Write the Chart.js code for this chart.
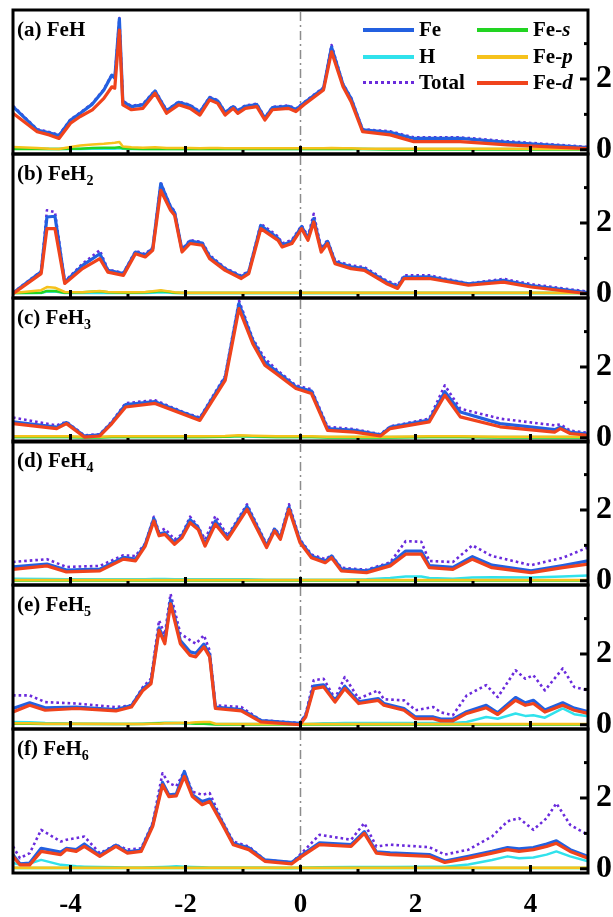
<!DOCTYPE html>
<html>
<head>
<meta charset="utf-8">
<script src="https://cdn.jsdelivr.net/npm/chart.js@4.4.0/dist/chart.umd.min.js"></script>
<style>
body{margin:0;background:#fff;width:613px;height:917px;overflow:hidden;position:relative;}
.pane{position:absolute;left:0;}
.lbl{position:absolute;left:17px;font:bold 21px/21px "Liberation Serif",serif;color:#000;white-space:nowrap;}
.lbl sub{font-size:14px;vertical-align:-5px;line-height:0;}
.leg{position:absolute;font:bold 21px/21px "Liberation Serif",serif;color:#000;white-space:nowrap;}
.sw{position:absolute;height:0;}
</style>
</head>
<body>
<script>
// x tick labels and y tick labels
const xTicks = [-4, -2, 0, 2, 4];
const yTicks = [0, 2];

// (a) FeH
const xA = [-5,-4.58,-4.37,-4.2,-4.0,-3.83,-3.62,-3.42,-3.28,-3.23, -3.15,-3.09,-2.94,-2.74,-2.53,-2.33,-2.12,-1.92,-1.75,-1.58, -1.44,-1.31,-1.17,-1.09,-0.96,-0.76,-0.62,-0.49,-0.21,-0.08, 0.06,0.40,0.54,0.74,0.88,1.08,1.56,1.97,2.78,3.6, 5.0];
const dA = [1.03,0.51,0.42,0.32,0.75,0.94,1.13,1.45,1.78,1.74, 3.38,1.27,1.13,1.17,1.60,1.03,1.27,1.17,0.98,1.41, 1.31,0.98,1.17,1.03,1.17,1.22,0.84,1.13,1.17,1.08, 1.27,1.69,2.77,1.78,1.36,0.51,0.42,0.23,0.23,0.14, 0.03];
const feA = [1.22,0.56,0.48,0.40,0.84,1.03,1.29,1.69,2.11,2.02, 3.70,1.36,1.22,1.27,1.66,1.10,1.34,1.25,1.06,1.47, 1.38,1.05,1.22,1.10,1.23,1.28,0.89,1.19,1.23,1.14, 1.32,1.74,2.90,1.84,1.45,0.56,0.49,0.32,0.32,0.21, 0.06];
const totA = [1.24,0.58,0.50,0.42,0.86,1.05,1.31,1.71,2.13,2.04, 3.72,1.38,1.24,1.29,1.68,1.12,1.36,1.27,1.08,1.49, 1.40,1.07,1.24,1.12,1.25,1.30,0.91,1.21,1.25,1.16, 1.34,1.76,2.96,1.86,1.47,0.58,0.52,0.35,0.35,0.24, 0.08];
const hA = [0.03,0.03,0.02,0.02,0.02,0.02,0.03,0.03,0.03,0.03, 0.04,0.03,0.02,0.02,0.02,0.02,0.02,0.02,0.02,0.02, 0.02,0.02,0.02,0.02,0.02,0.02,0.02,0.02,0.02,0.02, 0.02,0.02,0.03,0.02,0.02,0.02,0.02,0.02,0.02,0.02, 0.02];
const sA = [0.02,0.02,0.02,0.02,0.03,0.03,0.05,0.06,0.06,0.06, 0.07,0.04,0.03,0.02,0.03,0.02,0.02,0.02,0.02,0.02, 0.02,0.02,0.02,0.02,0.02,0.02,0.02,0.02,0.02,0.02, 0.02,0.02,0.03,0.02,0.02,0.02,0.01,0.01,0.01,0.01, 0.01];
const pA = [0.08,0.05,0.03,0.02,0.08,0.12,0.15,0.17,0.19,0.20, 0.22,0.09,0.07,0.06,0.07,0.05,0.05,0.05,0.04,0.05, 0.05,0.04,0.04,0.04,0.04,0.04,0.04,0.04,0.04,0.04, 0.04,0.04,0.05,0.04,0.04,0.03,0.03,0.03,0.03,0.03, 0.02];

// (b) FeH2
const xB = [-5,-4.51,-4.41,-4.27,-4.1,-3.79,-3.49,-3.35,-3.08,-2.87, -2.70,-2.57,-2.43,-2.26,-2.19,-2.06,-1.92,-1.71,-1.58,-1.31, -1.03,-0.9,-0.69,-0.39,-0.32,-0.15,0.02,0.13,0.23,0.36, 0.47,0.6,0.88,1.11,1.49,1.69,1.8,2.24,2.92,3.53, 4.01,5.0];
const dB = [0.0,0.57,1.84,1.84,0.29,0.71,0.99,0.61,0.52,1.13, 1.04,1.23,2.92,2.36,2.22,1.18,1.42,1.37,0.99,0.66, 0.43,0.57,1.84,1.51,1.32,1.42,1.84,1.51,2.03,1.18, 1.42,0.85,0.71,0.66,0.29,0.15,0.43,0.43,0.24,0.33, 0.19,0.0];
const feB = [0.02,0.62,2.17,2.19,0.33,0.80,1.13,0.66,0.57,1.18, 1.09,1.28,3.11,2.45,2.30,1.23,1.49,1.43,1.05,0.70, 0.48,0.62,1.93,1.57,1.38,1.48,1.90,1.57,2.12,1.24, 1.48,0.90,0.76,0.71,0.34,0.20,0.47,0.48,0.28,0.38, 0.23,0.03];
const totB = [0.03,0.64,2.36,2.31,0.35,0.85,1.23,0.68,0.59,1.21, 1.12,1.31,3.14,2.48,2.34,1.26,1.52,1.46,1.09,0.73, 0.51,0.65,1.98,1.62,1.42,1.52,1.93,1.62,2.26,1.28, 1.52,0.94,0.80,0.75,0.38,0.24,0.52,0.52,0.29,0.42, 0.27,0.06];
const hB = [0.02,0.02,0.06,0.06,0.02,0.02,0.03,0.02,0.02,0.02, 0.02,0.03,0.04,0.03,0.02,0.02,0.02,0.02,0.02,0.02, 0.02,0.02,0.02,0.02,0.02,0.02,0.02,0.02,0.02,0.02, 0.02,0.02,0.02,0.02,0.02,0.02,0.02,0.02,0.02,0.02, 0.02,0.02];
const sB = [0.02,0.03,0.08,0.08,0.03,0.04,0.07,0.04,0.03,0.03, 0.04,0.06,0.08,0.05,0.03,0.02,0.02,0.02,0.02,0.02, 0.02,0.02,0.02,0.02,0.02,0.02,0.02,0.02,0.02,0.02, 0.02,0.02,0.02,0.02,0.02,0.02,0.02,0.02,0.02,0.02, 0.02,0.02];
const pB = [0.02,0.10,0.19,0.17,0.05,0.04,0.08,0.05,0.04,0.04, 0.05,0.07,0.10,0.06,0.04,0.03,0.03,0.03,0.03,0.03, 0.03,0.03,0.03,0.03,0.03,0.03,0.03,0.03,0.03,0.03, 0.03,0.03,0.03,0.03,0.03,0.03,0.03,0.03,0.03,0.03, 0.03,0.02];

// (c) FeH3
const xC = [-5,-4.24,-4.07,-3.76,-3.49,-3.28,-3.04,-2.53,-2.06,-1.75, -1.31,-1.07,-0.83,-0.62,-0.42,-0.08,0.19,0.47,0.94,1.39, 1.56,2.24,2.51,2.78,3.47,4.42,4.52,4.69,5.0];
const dC = [0.40,0.26,0.40,0.02,0.05,0.40,0.87,0.97,0.68,0.49, 1.62,3.65,2.66,2.05,1.81,1.39,1.25,0.21,0.16,0.05, 0.26,0.45,1.20,0.59,0.31,0.16,0.26,0.12,0.07];
const feC = [0.45,0.30,0.43,0.05,0.08,0.43,0.94,1.02,0.72,0.54, 1.70,3.79,2.75,2.14,1.88,1.44,1.32,0.26,0.21,0.08, 0.30,0.50,1.30,0.73,0.40,0.23,0.30,0.16,0.10];
const totC = [0.57,0.35,0.45,0.07,0.10,0.46,0.98,1.06,0.74,0.57, 1.75,3.88,2.80,2.24,1.93,1.48,1.37,0.31,0.24,0.10, 0.32,0.54,1.48,0.82,0.54,0.35,0.38,0.20,0.14];
const hC = [0.02,0.02,0.02,0.02,0.02,0.02,0.02,0.02,0.02,0.02, 0.03,0.05,0.03,0.02,0.02,0.02,0.02,0.02,0.02,0.02, 0.02,0.02,0.02,0.02,0.02,0.02,0.02,0.02,0.02];
const sC = [0.02,0.02,0.02,0.01,0.01,0.02,0.02,0.02,0.02,0.02, 0.03,0.05,0.04,0.03,0.02,0.02,0.02,0.01,0.01,0.01, 0.01,0.02,0.02,0.02,0.01,0.01,0.01,0.01,0.01];
const pC = [0.04,0.04,0.04,0.03,0.03,0.04,0.04,0.04,0.04,0.04, 0.05,0.07,0.06,0.05,0.04,0.04,0.04,0.03,0.03,0.03, 0.03,0.04,0.04,0.04,0.03,0.03,0.03,0.03,0.03];

// (d) FeH4
const xD = [-5,-4.41,-4.07,-3.49,-3.08,-2.87,-2.70,-2.55,-2.46,-2.36, -2.19,-2.06,-1.92,-1.78,-1.66,-1.48,-1.27,-0.93,-0.59,-0.45, -0.35,-0.2,-0.01,0.19,0.43,0.54,0.71,1.15,1.56,1.83, 2.1,2.24,2.65,2.99,3.33,4.01,4.56,5.0];
const dD = [0.32,0.42,0.25,0.28,0.61,0.56,0.98,1.69,1.27,1.31, 1.03,1.22,1.64,1.45,0.98,1.60,1.17,2.02,0.94,1.41, 1.17,2.02,1.08,0.65,0.51,0.65,0.28,0.23,0.42,0.75, 0.75,0.37,0.32,0.61,0.37,0.23,0.37,0.47];
const feD = [0.39,0.47,0.30,0.33,0.66,0.61,1.03,1.76,1.32,1.36, 1.08,1.27,1.73,1.50,1.03,1.69,1.22,2.10,0.99,1.46, 1.22,2.08,1.13,0.70,0.56,0.70,0.33,0.28,0.48,0.84, 0.84,0.43,0.38,0.68,0.44,0.28,0.43,0.56];
const totD = [0.53,0.61,0.39,0.42,0.72,0.70,1.06,1.81,1.38,1.47, 1.17,1.31,1.81,1.53,1.17,1.83,1.27,2.16,1.03,1.49, 1.27,2.16,1.17,0.74,0.61,0.72,0.37,0.31,0.52,1.12, 1.10,0.56,0.53,1.00,0.70,0.44,0.65,0.94];
const hD = [0.06,0.05,0.04,0.04,0.04,0.04,0.04,0.05,0.05,0.05, 0.04,0.04,0.04,0.04,0.04,0.04,0.04,0.04,0.03,0.03, 0.03,0.03,0.03,0.03,0.03,0.03,0.03,0.04,0.08,0.12, 0.12,0.08,0.06,0.09,0.10,0.09,0.12,0.15];
const sD = [0.01,0.01,0.01,0.01,0.01,0.01,0.01,0.01,0.01,0.01, 0.01,0.01,0.01,0.01,0.01,0.01,0.01,0.01,0.01,0.01, 0.01,0.01,0.01,0.01,0.01,0.01,0.01,0.01,0.01,0.01, 0.01,0.01,0.01,0.01,0.01,0.01,0.01,0.01];
const pD = [0.02,0.02,0.02,0.02,0.02,0.02,0.02,0.02,0.02,0.02, 0.02,0.02,0.02,0.02,0.02,0.02,0.02,0.02,0.02,0.02, 0.02,0.02,0.02,0.02,0.02,0.02,0.02,0.02,0.02,0.02, 0.02,0.02,0.02,0.02,0.02,0.02,0.02,0.02];

// (e) FeH5
const xE = [-5,-4.71,-4.44,-3.9,-3.21,-2.94,-2.74,-2.6,-2.46,-2.36, -2.26,-2.09,-1.92,-1.82,-1.68,-1.58,-1.48,-1.03,-0.69,-0.01, 0.09,0.23,0.4,0.6,0.77,1.01,1.35,1.45,1.8,2.0, 2.31,2.44,2.65,2.89,3.23,3.43,3.74,3.91,4.05,4.25, 4.56,4.76,5.0];
const dE = [0.36,0.55,0.41,0.46,0.39,0.50,0.97,1.16,2.67,2.29, 3.42,2.29,1.96,1.92,2.20,1.92,0.46,0.39,0.08,0.0, 0.22,1.02,1.07,0.64,1.02,0.60,0.69,0.55,0.41,0.17, 0.17,0.11,0.11,0.32,0.48,0.29,0.69,0.55,0.60,0.36, 0.55,0.41,0.32];
const feE = [0.46,0.62,0.48,0.50,0.43,0.54,1.02,1.21,2.74,2.36, 3.52,2.38,2.06,2.02,2.28,1.98,0.50,0.43,0.12,0.04, 0.26,1.09,1.13,0.69,1.09,0.65,0.74,0.60,0.46,0.22, 0.22,0.16,0.16,0.37,0.55,0.34,0.77,0.62,0.69,0.42, 0.62,0.47,0.37];
const totE = [0.83,0.83,0.64,0.60,0.50,0.55,1.07,1.30,2.95,2.55, 3.70,2.58,2.39,2.29,2.53,2.10,0.55,0.50,0.13,0.05, 0.30,1.26,1.30,0.74,1.35,0.74,0.97,0.72,0.69,0.41, 0.50,0.35,0.27,0.83,1.12,0.78,1.54,1.30,1.40,0.97, 1.59,1.07,0.97];
const hE = [0.08,0.07,0.05,0.03,0.02,0.02,0.03,0.04,0.05,0.05, 0.05,0.04,0.04,0.03,0.03,0.02,0.02,0.02,0.02,0.02, 0.02,0.03,0.04,0.04,0.05,0.05,0.05,0.05,0.05,0.05, 0.05,0.05,0.05,0.08,0.22,0.17,0.32,0.25,0.27,0.20, 0.46,0.30,0.24];
const sE = [0.03,0.03,0.02,0.02,0.02,0.02,0.02,0.03,0.04,0.05, 0.05,0.05,0.04,0.03,0.03,0.02,0.01,0.01,0.01,0.01, 0.01,0.01,0.01,0.01,0.01,0.01,0.01,0.01,0.01,0.01, 0.01,0.01,0.01,0.01,0.01,0.01,0.01,0.01,0.01,0.01, 0.01,0.01,0.01];
const pE = [0.04,0.04,0.03,0.03,0.02,0.02,0.02,0.03,0.03,0.04, 0.04,0.05,0.06,0.07,0.08,0.08,0.03,0.02,0.02,0.02, 0.02,0.02,0.02,0.02,0.02,0.02,0.02,0.02,0.02,0.02, 0.02,0.02,0.02,0.02,0.02,0.02,0.02,0.02,0.02,0.02, 0.02,0.02,0.02];

// (f) FeH6
const xF = [-5,-4.88,-4.71,-4.51,-4.17,-4.07,-3.9,-3.76,-3.49,-3.21, -3.01,-2.77,-2.57,-2.4,-2.29,-2.16,-2.02,-1.88,-1.71,-1.58, -1.37,-1.17,-0.9,-0.62,-0.15,0.02,0.33,0.88,1.11,1.32, 1.56,2.24,2.51,2.92,3.33,3.6,3.8,4.05,4.28,4.45, 4.69,5.0];
const dF = [0.35,0.11,0.11,0.49,0.40,0.54,0.49,0.63,0.35,0.63, 0.44,0.49,1.20,2.37,2.04,2.06,2.61,2.04,1.81,1.90, 1.29,0.68,0.54,0.21,0.14,0.35,0.68,0.63,1.00,0.44, 0.40,0.35,0.18,0.30,0.44,0.54,0.49,0.54,0.63,0.72, 0.49,0.30];
const feF = [0.40,0.14,0.16,0.58,0.47,0.58,0.54,0.70,0.39,0.67, 0.48,0.53,1.25,2.44,2.09,2.11,2.75,2.09,1.90,1.97, 1.34,0.72,0.59,0.25,0.18,0.39,0.73,0.68,1.05,0.48, 0.45,0.40,0.22,0.35,0.49,0.60,0.56,0.60,0.70,0.79, 0.54,0.35];
const totF = [0.63,0.30,0.44,1.10,0.77,0.82,0.87,0.91,0.44,0.68, 0.54,0.58,1.30,2.70,2.42,2.33,2.75,2.18,2.09,2.14, 1.38,0.77,0.63,0.25,0.18,0.44,0.96,0.82,1.29,0.63, 0.68,0.61,0.40,0.54,0.91,1.34,1.43,1.10,1.43,1.85, 1.24,0.96];
const hF = [0.16,0.12,0.15,0.25,0.11,0.10,0.07,0.06,0.05,0.04, 0.03,0.03,0.04,0.05,0.06,0.07,0.06,0.05,0.04,0.03, 0.03,0.03,0.03,0.03,0.02,0.03,0.04,0.05,0.05,0.05, 0.05,0.06,0.06,0.12,0.25,0.35,0.30,0.32,0.40,0.49, 0.35,0.21];
const sF = [0.02,0.02,0.02,0.02,0.02,0.02,0.02,0.02,0.02,0.02, 0.02,0.02,0.02,0.02,0.02,0.02,0.02,0.02,0.02,0.02, 0.02,0.02,0.02,0.02,0.02,0.02,0.02,0.02,0.02,0.02, 0.02,0.02,0.02,0.02,0.02,0.02,0.02,0.02,0.02,0.02, 0.02,0.02];
const pF = [0.03,0.03,0.03,0.03,0.03,0.03,0.03,0.03,0.03,0.03, 0.03,0.03,0.03,0.03,0.03,0.03,0.03,0.03,0.03,0.03, 0.03,0.03,0.03,0.03,0.03,0.03,0.03,0.03,0.03,0.03, 0.03,0.03,0.03,0.03,0.03,0.03,0.03,0.03,0.03,0.03, 0.03,0.03];

const panels = [
  {name: '(a) FeH', sub: '',  x: xA, d: dA, fe: feA, tot: totA, h: hA, s: sA, p: pA},
  {name: '(b) FeH', sub: '2', x: xB, d: dB, fe: feB, tot: totB, h: hB, s: sB, p: pB},
  {name: '(c) FeH', sub: '3', x: xC, d: dC, fe: feC, tot: totC, h: hC, s: sC, p: pC},
  {name: '(d) FeH', sub: '4', x: xD, d: dD, fe: feD, tot: totD, h: hD, s: sD, p: pD},
  {name: '(e) FeH', sub: '5', x: xE, d: dE, fe: feE, tot: totE, h: hE, s: sE, p: pE},
  {name: '(f) FeH', sub: '6', x: xF, d: dF, fe: feF, tot: totF, h: hF, s: sF, p: pF}
];

const col = {fe: '#2360e0', h: '#30e2ec', tot: '#6a2bdc', s: '#22d422', p: '#f6c21c', d: '#f0431c', zero: '#8c8c8c'};
const yMin = -0.12, yMax = 3.95;
const tops = [10, 154, 298, 441, 585, 729];
const ph = 144;

function pts(xs, ys) { return xs.map((x, i) => ({x: x, y: ys[i]})); }

function line(label, xs, ys, color, w) {
  return {label: label, data: pts(xs, ys), borderColor: color, backgroundColor: color, borderWidth: w, pointRadius: 0, tension: 0, borderJoinStyle: 'round'};
}

// frame and inward ticks
const frame = {
  id: 'frame',
  afterDatasetsDraw(chart) {
    const {ctx, chartArea: a, scales: {x, y}} = chart;
    ctx.save();
    ctx.fillStyle = '#000';
    for (let v = -4; v <= 4; v++) {
      const px = x.getPixelForValue(v);
      const len = v % 2 === 0 ? 8 : 4;
      ctx.fillRect(px - 1.5, a.bottom - len, 3, len);
    }
    for (let v = 0; v <= 3; v++) {
      const py = y.getPixelForValue(v);
      const len = v % 2 === 0 ? 8 : 4;
      ctx.fillRect(a.right - len, py - 1.5, len, 3);
    }
    ctx.lineWidth = 3;
    ctx.strokeStyle = '#000';
    ctx.strokeRect(a.left, a.top, a.right - a.left, a.bottom - a.top);
    ctx.restore();
  }
};

const font = {family: '"Liberation Serif", serif', weight: 'bold'};

panels.forEach((P, i) => {
  const last = i === panels.length - 1;
  const padTop = 4, padBot = last ? 0 : 22;
  const H = padTop + ph + (last ? 44 : padBot);
  const div = document.createElement('div');
  div.className = 'pane';
  div.style.top = (tops[i] - padTop) + 'px';
  const cv = document.createElement('canvas');
  cv.width = 613; cv.height = H;
  cv.style.width = '613px'; cv.style.height = H + 'px';
  div.appendChild(cv);
  document.body.appendChild(div);

  const tot = line('Total', P.x, P.tot, col.tot, 2.6);
  tot.borderDash = [2.6, 3];

  new Chart(cv, {
    type: 'line',
    data: {
      datasets: [
        line('Fe-d', P.x, P.d, col.d, 3.2),
        line('Fe', P.x, P.fe, col.fe, 3.2),
        tot,
        line('Fe-p', P.x, P.p, col.p, 2.5),
        line('Fe-s', P.x, P.s, col.s, 2.5),
        line('H', P.x, P.h, col.h, 2.5),
        {label: 'EF', data: [{x: 0, y: yMin}, {x: 0, y: yMax}], borderColor: col.zero, borderWidth: 1.5, borderDash: [9, 4, 2, 4], pointRadius: 0}
      ]
    },
    options: {
      responsive: false,
      animation: false,
      devicePixelRatio: 1,
      layout: {padding: {left: 13, right: 0, top: padTop, bottom: padBot}},
      plugins: {legend: {display: false}, tooltip: {enabled: false}},
      scales: {
        x: {
          type: 'linear', min: -5, max: 5, display: last,
          afterBuildTicks: s => { s.ticks = xTicks.map(v => ({value: v})); },
          afterFit: s => { if (last) s.height = 44; s.paddingLeft = 0; s.paddingRight = 0; },
          grid: {display: false, drawTicks: false},
          border: {display: false},
          ticks: {padding: 16, color: '#000', font: Object.assign({size: 27}, font)}
        },
        y: {
          type: 'linear', position: 'right', min: yMin, max: yMax,
          afterBuildTicks: s => { s.ticks = yTicks.map(v => ({value: v})); },
          afterFit: s => { s.width = 25; s.paddingTop = 0; s.paddingBottom = 0; },
          grid: {display: false, drawTicks: false},
          border: {display: false},
          ticks: {padding: 8, color: '#000', font: Object.assign({size: 32}, font)}
        }
      }
    },
    plugins: [frame]
  });

  const lb = document.createElement('div');
  lb.className = 'lbl';
  lb.style.top = (tops[i] + 9) + 'px';
  lb.innerHTML = P.name + (P.sub ? '<sub>' + P.sub + '</sub>' : '');
  document.body.appendChild(lb);
});

// legend in panel (a)
const legItems = [
  {t: 'Fe', c: col.fe, dot: false, x: 363, row: 0},
  {t: 'Fe-<i>s</i>', c: col.s, dot: false, x: 477, row: 0},
  {t: 'H', c: col.h, dot: false, x: 363, row: 1},
  {t: 'Fe-<i>p</i>', c: col.p, dot: false, x: 477, row: 1},
  {t: 'Total', c: col.tot, dot: true, x: 363, row: 2},
  {t: 'Fe-<i>d</i>', c: col.d, dot: false, x: 477, row: 2}
];
const rowY = [30, 57, 83];
legItems.forEach(it => {
  const sw = document.createElement('div');
  sw.className = 'sw';
  sw.style.left = it.x + 'px';
  sw.style.width = '51px';
  sw.style.top = (rowY[it.row] - 2) + 'px';
  sw.style.borderTop = it.dot ? '3px dotted ' + it.c : '4px solid ' + it.c;
  document.body.appendChild(sw);
  const tx = document.createElement('div');
  tx.className = 'leg';
  tx.style.left = (it.x + 56) + 'px';
  tx.style.top = (rowY[it.row] - 11) + 'px';
  tx.innerHTML = it.t;
  document.body.appendChild(tx);
});
</script>
</body>
</html>
